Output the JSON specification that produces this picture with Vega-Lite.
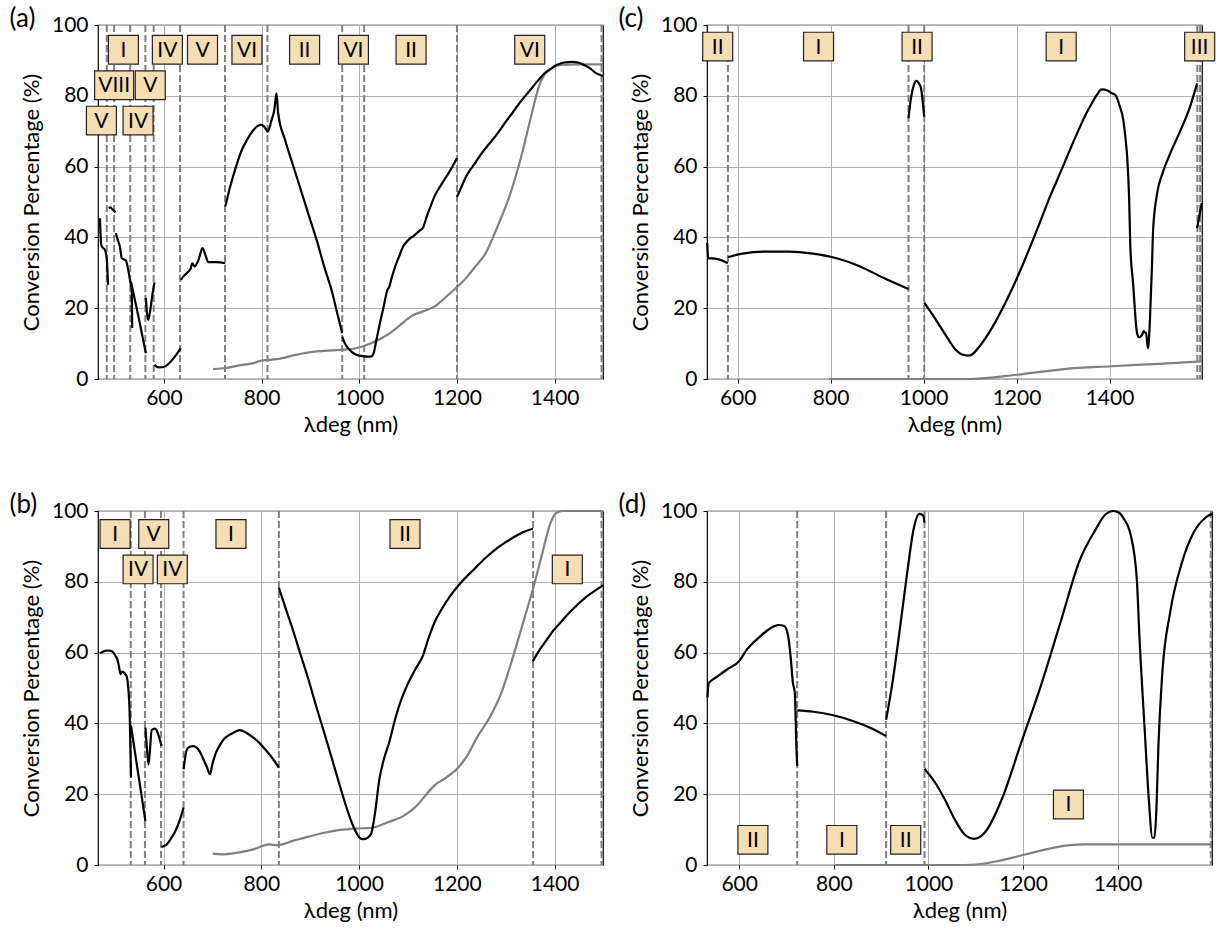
{
"$schema": "https://vega.github.io/schema/vega-lite/v6.json",
"background": "white",
"padding": {"left": 8, "top": 5, "right": 0, "bottom": 0},
"datasets": {
"curves": [
{"p":"a","s":1,"k":"m","x":469,"y":45.4},{"p":"a","s":1,"k":"m","x":471.5,"y":38},{"p":"a","s":1,"k":"m","x":474,"y":37.2},{"p":"a","s":1,"k":"m","x":479,"y":36.5},{"p":"a","s":1,"k":"m","x":483,"y":34},{"p":"a","s":1,"k":"m","x":484.5,"y":30},{"p":"a","s":1,"k":"m","x":485.5,"y":26.6},
{"p":"a","s":2,"k":"m","x":487,"y":48.3},{"p":"a","s":2,"k":"m","x":490,"y":48.5},{"p":"a","s":2,"k":"m","x":494,"y":48},{"p":"a","s":2,"k":"m","x":501,"y":47.1},
{"p":"a","s":3,"k":"m","x":501.7,"y":41.2},{"p":"a","s":3,"k":"m","x":505,"y":39.5},{"p":"a","s":3,"k":"m","x":509.8,"y":37.4},{"p":"a","s":3,"k":"m","x":513.8,"y":34.1},{"p":"a","s":3,"k":"m","x":518,"y":33.8},{"p":"a","s":3,"k":"m","x":522,"y":33.5},{"p":"a","s":3,"k":"m","x":527.5,"y":30.4},{"p":"a","s":3,"k":"m","x":531,"y":27.5},{"p":"a","s":3,"k":"m","x":534,"y":25.2},{"p":"a","s":3,"k":"m","x":535,"y":14.4},
{"p":"a","s":4,"k":"m","x":532.5,"y":27.5},{"p":"a","s":4,"k":"m","x":548,"y":17.5},{"p":"a","s":4,"k":"m","x":563,"y":7.3},
{"p":"a","s":5,"k":"m","x":563,"y":22.9},{"p":"a","s":5,"k":"m","x":565,"y":19},{"p":"a","s":5,"k":"m","x":567.8,"y":16.7},{"p":"a","s":5,"k":"m","x":572.6,"y":20},{"p":"a","s":5,"k":"m","x":576,"y":23.5},{"p":"a","s":5,"k":"m","x":580.7,"y":27.3},
{"p":"a","s":6,"k":"m","x":580.7,"y":4},{"p":"a","s":6,"k":"m","x":585,"y":3.5},{"p":"a","s":6,"k":"m","x":590,"y":3.3},{"p":"a","s":6,"k":"m","x":600,"y":3.4},{"p":"a","s":6,"k":"m","x":607,"y":4},{"p":"a","s":6,"k":"m","x":614.5,"y":5},{"p":"a","s":6,"k":"m","x":625,"y":6.8},{"p":"a","s":6,"k":"m","x":634.6,"y":8.7},
{"p":"a","s":7,"k":"m","x":634.6,"y":28},{"p":"a","s":7,"k":"m","x":640,"y":29},{"p":"a","s":7,"k":"m","x":646.7,"y":29.9},{"p":"a","s":7,"k":"m","x":654.8,"y":31.2},{"p":"a","s":7,"k":"m","x":658,"y":32.7},{"p":"a","s":7,"k":"m","x":662.8,"y":31.8},{"p":"a","s":7,"k":"m","x":670.9,"y":33.7},{"p":"a","s":7,"k":"m","x":679,"y":37},{"p":"a","s":7,"k":"m","x":685,"y":35},{"p":"a","s":7,"k":"m","x":691,"y":33},{"p":"a","s":7,"k":"m","x":707,"y":33},{"p":"a","s":7,"k":"m","x":725.7,"y":32.7},
{"p":"a","s":8,"k":"m","x":725.7,"y":48.7},{"p":"a","s":8,"k":"m","x":735,"y":54},{"p":"a","s":8,"k":"m","x":743.4,"y":58.1},{"p":"a","s":8,"k":"m","x":759.5,"y":64.7},{"p":"a","s":8,"k":"m","x":770,"y":67.5},{"p":"a","s":8,"k":"m","x":783.7,"y":70.4},{"p":"a","s":8,"k":"m","x":792,"y":71.5},{"p":"a","s":8,"k":"m","x":799.8,"y":71.8},{"p":"a","s":8,"k":"m","x":806,"y":71.2},{"p":"a","s":8,"k":"m","x":812.7,"y":69.9},{"p":"a","s":8,"k":"m","x":820,"y":73},{"p":"a","s":8,"k":"m","x":826,"y":76},{"p":"a","s":8,"k":"m","x":830.4,"y":80.7},{"p":"a","s":8,"k":"m","x":834,"y":75},{"p":"a","s":8,"k":"m","x":848.1,"y":67.5},{"p":"a","s":8,"k":"m","x":864,"y":60.5},{"p":"a","s":8,"k":"m","x":880.3,"y":53.4},{"p":"a","s":8,"k":"m","x":896,"y":46.5},{"p":"a","s":8,"k":"m","x":912.6,"y":39.3},{"p":"a","s":8,"k":"m","x":928,"y":31.8},{"p":"a","s":8,"k":"m","x":944.8,"y":24.3},{"p":"a","s":8,"k":"m","x":955,"y":18.5},{"p":"a","s":8,"k":"m","x":965,"y":13},
{"p":"a","s":9,"k":"m","x":965,"y":12},{"p":"a","s":9,"k":"m","x":970,"y":10.2},{"p":"a","s":9,"k":"m","x":977,"y":8.7},{"p":"a","s":9,"k":"m","x":985,"y":7.6},{"p":"a","s":9,"k":"m","x":993,"y":6.9},{"p":"a","s":9,"k":"m","x":1000,"y":6.6},{"p":"a","s":9,"k":"m","x":1010,"y":6.4},{"p":"a","s":9,"k":"m","x":1020,"y":6.3},{"p":"a","s":9,"k":"m","x":1025.4,"y":6.4},{"p":"a","s":9,"k":"m","x":1029.4,"y":7.3},{"p":"a","s":9,"k":"m","x":1035,"y":11},{"p":"a","s":9,"k":"m","x":1041.5,"y":15.3},{"p":"a","s":9,"k":"m","x":1050,"y":20.5},{"p":"a","s":9,"k":"m","x":1057.6,"y":25.2},{"p":"a","s":9,"k":"m","x":1061.6,"y":26.1},{"p":"a","s":9,"k":"m","x":1066,"y":28.4},{"p":"a","s":9,"k":"m","x":1073.7,"y":31.8},{"p":"a","s":9,"k":"m","x":1082,"y":34.8},{"p":"a","s":9,"k":"m","x":1089.8,"y":37.4},{"p":"a","s":9,"k":"m","x":1100,"y":39.2},{"p":"a","s":9,"k":"m","x":1114,"y":40.7},{"p":"a","s":9,"k":"m","x":1124,"y":42},{"p":"a","s":9,"k":"m","x":1130,"y":42.6},{"p":"a","s":9,"k":"m","x":1138,"y":45.9},{"p":"a","s":9,"k":"m","x":1146,"y":48.8},{"p":"a","s":9,"k":"m","x":1154,"y":51.6},{"p":"a","s":9,"k":"m","x":1166,"y":54.5},{"p":"a","s":9,"k":"m","x":1178.4,"y":57.2},{"p":"a","s":9,"k":"m","x":1190,"y":59.8},{"p":"a","s":9,"k":"m","x":1200,"y":62.4},
{"p":"a","s":10,"k":"m","x":1200,"y":51.4},{"p":"a","s":10,"k":"m","x":1210,"y":54.5},{"p":"a","s":10,"k":"m","x":1218.7,"y":57.2},{"p":"a","s":10,"k":"m","x":1235,"y":60.6},{"p":"a","s":10,"k":"m","x":1250.9,"y":63.8},{"p":"a","s":10,"k":"m","x":1267,"y":66.6},{"p":"a","s":10,"k":"m","x":1283.1,"y":69.4},{"p":"a","s":10,"k":"m","x":1299,"y":72.5},{"p":"a","s":10,"k":"m","x":1315.3,"y":75.5},{"p":"a","s":10,"k":"m","x":1331,"y":78.5},{"p":"a","s":10,"k":"m","x":1347.6,"y":81.2},{"p":"a","s":10,"k":"m","x":1364,"y":84},{"p":"a","s":10,"k":"m","x":1379.8,"y":86.4},{"p":"a","s":10,"k":"m","x":1392,"y":87.6},{"p":"a","s":10,"k":"m","x":1404,"y":88.7},{"p":"a","s":10,"k":"m","x":1420,"y":89.4},{"p":"a","s":10,"k":"m","x":1436.2,"y":89.6},{"p":"a","s":10,"k":"m","x":1448,"y":89.4},{"p":"a","s":10,"k":"m","x":1460.4,"y":88.7},{"p":"a","s":10,"k":"m","x":1472,"y":87.8},{"p":"a","s":10,"k":"m","x":1484.6,"y":86.4},{"p":"a","s":10,"k":"m","x":1499,"y":85.6},
{"p":"a","s":0,"k":"r","x":700.7,"y":2.8},{"p":"a","s":0,"k":"r","x":727.3,"y":3.1},{"p":"a","s":0,"k":"r","x":751.5,"y":3.8},{"p":"a","s":0,"k":"r","x":783.7,"y":4.5},{"p":"a","s":0,"k":"r","x":799.8,"y":5.2},{"p":"a","s":0,"k":"r","x":832,"y":5.6},{"p":"a","s":0,"k":"r","x":872.3,"y":6.9},{"p":"a","s":0,"k":"r","x":912.6,"y":7.8},{"p":"a","s":0,"k":"r","x":944.8,"y":8.1},{"p":"a","s":0,"k":"r","x":969,"y":8.3},{"p":"a","s":0,"k":"r","x":993.1,"y":8.7},{"p":"a","s":0,"k":"r","x":1025.4,"y":10.2},{"p":"a","s":0,"k":"r","x":1057.6,"y":12.5},{"p":"a","s":0,"k":"r","x":1081.7,"y":15},{"p":"a","s":0,"k":"r","x":1105.9,"y":17.7},{"p":"a","s":0,"k":"r","x":1130.1,"y":19.1},{"p":"a","s":0,"k":"r","x":1154.3,"y":20.5},{"p":"a","s":0,"k":"r","x":1178.4,"y":23.3},{"p":"a","s":0,"k":"r","x":1200.2,"y":26},{"p":"a","s":0,"k":"r","x":1218.7,"y":28.5},{"p":"a","s":0,"k":"r","x":1234.8,"y":31.3},{"p":"a","s":0,"k":"r","x":1259,"y":35.6},{"p":"a","s":0,"k":"r","x":1283.1,"y":43.1},{"p":"a","s":0,"k":"r","x":1307.3,"y":51.6},{"p":"a","s":0,"k":"r","x":1331.5,"y":62.8},{"p":"a","s":0,"k":"r","x":1351.6,"y":74.1},{"p":"a","s":0,"k":"r","x":1367.7,"y":82.6},{"p":"a","s":0,"k":"r","x":1387.9,"y":87.3},{"p":"a","s":0,"k":"r","x":1412,"y":88.7},{"p":"a","s":0,"k":"r","x":1444.3,"y":88.9},{"p":"a","s":0,"k":"r","x":1499,"y":88.9},
{"p":"b","s":1,"k":"m","x":470,"y":59.8},{"p":"b","s":1,"k":"m","x":477,"y":60.3},{"p":"b","s":1,"k":"m","x":485.6,"y":60.6},{"p":"b","s":1,"k":"m","x":492,"y":60.5},{"p":"b","s":1,"k":"m","x":497.7,"y":60},{"p":"b","s":1,"k":"m","x":502,"y":59},{"p":"b","s":1,"k":"m","x":505.7,"y":58.1},{"p":"b","s":1,"k":"m","x":509,"y":56},{"p":"b","s":1,"k":"m","x":512.2,"y":53.9},{"p":"b","s":1,"k":"m","x":515,"y":54.6},{"p":"b","s":1,"k":"m","x":517.8,"y":54.5},{"p":"b","s":1,"k":"m","x":521,"y":54},{"p":"b","s":1,"k":"m","x":524.3,"y":53.4},{"p":"b","s":1,"k":"m","x":527.5,"y":50.6},{"p":"b","s":1,"k":"m","x":530.7,"y":43},{"p":"b","s":1,"k":"m","x":532,"y":35},{"p":"b","s":1,"k":"m","x":533.5,"y":24.7},
{"p":"b","s":2,"k":"m","x":533.5,"y":39.3},{"p":"b","s":2,"k":"m","x":548,"y":26},{"p":"b","s":2,"k":"m","x":563,"y":12.4},
{"p":"b","s":3,"k":"m","x":563,"y":38.8},{"p":"b","s":3,"k":"m","x":566,"y":33},{"p":"b","s":3,"k":"m","x":569.3,"y":28.4},{"p":"b","s":3,"k":"m","x":572,"y":32},{"p":"b","s":3,"k":"m","x":575.8,"y":38.1},{"p":"b","s":3,"k":"m","x":582.2,"y":38.5},{"p":"b","s":3,"k":"m","x":586,"y":38},{"p":"b","s":3,"k":"m","x":590.3,"y":36.4},{"p":"b","s":3,"k":"m","x":596,"y":33.6},
{"p":"b","s":4,"k":"m","x":596,"y":5.1},{"p":"b","s":4,"k":"m","x":600,"y":5.3},{"p":"b","s":4,"k":"m","x":606.4,"y":5.8},{"p":"b","s":4,"k":"m","x":614,"y":7.2},{"p":"b","s":4,"k":"m","x":622.6,"y":9.1},{"p":"b","s":4,"k":"m","x":632,"y":12.2},{"p":"b","s":4,"k":"m","x":641,"y":16.2},
{"p":"b","s":5,"k":"m","x":641,"y":27},{"p":"b","s":5,"k":"m","x":644,"y":30},{"p":"b","s":5,"k":"m","x":646.7,"y":32.2},{"p":"b","s":5,"k":"m","x":652,"y":33.3},{"p":"b","s":5,"k":"m","x":660.4,"y":33.6},{"p":"b","s":5,"k":"m","x":666,"y":33.3},{"p":"b","s":5,"k":"m","x":670.9,"y":32.7},{"p":"b","s":5,"k":"m","x":677,"y":31.3},{"p":"b","s":5,"k":"m","x":683,"y":29.4},{"p":"b","s":5,"k":"m","x":689,"y":27.6},{"p":"b","s":5,"k":"m","x":695,"y":25.6},{"p":"b","s":5,"k":"m","x":700,"y":28.5},{"p":"b","s":5,"k":"m","x":707.1,"y":31.7},{"p":"b","s":5,"k":"m","x":715,"y":33.8},{"p":"b","s":5,"k":"m","x":723.3,"y":35.5},{"p":"b","s":5,"k":"m","x":733,"y":36.6},{"p":"b","s":5,"k":"m","x":743.4,"y":37.4},{"p":"b","s":5,"k":"m","x":755.5,"y":38.1},{"p":"b","s":5,"k":"m","x":770,"y":37.3},{"p":"b","s":5,"k":"m","x":783.7,"y":36},{"p":"b","s":5,"k":"m","x":796,"y":34.5},{"p":"b","s":5,"k":"m","x":807.8,"y":32.7},{"p":"b","s":5,"k":"m","x":822,"y":30.3},{"p":"b","s":5,"k":"m","x":836,"y":27.5},
{"p":"b","s":6,"k":"m","x":836,"y":78.3},{"p":"b","s":6,"k":"m","x":850,"y":72.4},{"p":"b","s":6,"k":"m","x":864.2,"y":66.6},{"p":"b","s":6,"k":"m","x":880,"y":59.6},{"p":"b","s":6,"k":"m","x":896.5,"y":52.4},{"p":"b","s":6,"k":"m","x":912,"y":45},{"p":"b","s":6,"k":"m","x":928.7,"y":37.4},{"p":"b","s":6,"k":"m","x":945,"y":29.8},{"p":"b","s":6,"k":"m","x":960.9,"y":22.3},{"p":"b","s":6,"k":"m","x":973,"y":16.8},{"p":"b","s":6,"k":"m","x":985.1,"y":12},{"p":"b","s":6,"k":"m","x":993,"y":9.5},{"p":"b","s":6,"k":"m","x":1001.2,"y":7.7},{"p":"b","s":6,"k":"m","x":1007,"y":7.3},{"p":"b","s":6,"k":"m","x":1013.3,"y":7.4},{"p":"b","s":6,"k":"m","x":1020,"y":8},{"p":"b","s":6,"k":"m","x":1025.4,"y":9.1},{"p":"b","s":6,"k":"m","x":1033,"y":15},{"p":"b","s":6,"k":"m","x":1041.5,"y":24.2},{"p":"b","s":6,"k":"m","x":1050,"y":29.5},{"p":"b","s":6,"k":"m","x":1061.6,"y":34.6},{"p":"b","s":6,"k":"m","x":1073.7,"y":41.1},{"p":"b","s":6,"k":"m","x":1085,"y":46.2},{"p":"b","s":6,"k":"m","x":1097.9,"y":50.6},{"p":"b","s":6,"k":"m","x":1114,"y":55},{"p":"b","s":6,"k":"m","x":1130.1,"y":59},{"p":"b","s":6,"k":"m","x":1142,"y":64},{"p":"b","s":6,"k":"m","x":1154.3,"y":68.5},{"p":"b","s":6,"k":"m","x":1170,"y":72.5},{"p":"b","s":6,"k":"m","x":1186.5,"y":76},{"p":"b","s":6,"k":"m","x":1210,"y":80},{"p":"b","s":6,"k":"m","x":1234.8,"y":83.5},{"p":"b","s":6,"k":"m","x":1259,"y":86.8},{"p":"b","s":6,"k":"m","x":1283.1,"y":89.6},{"p":"b","s":6,"k":"m","x":1300,"y":91.2},{"p":"b","s":6,"k":"m","x":1315.4,"y":92.5},{"p":"b","s":6,"k":"m","x":1335,"y":94},{"p":"b","s":6,"k":"m","x":1355.6,"y":95},
{"p":"b","s":7,"k":"m","x":1355.6,"y":57.6},{"p":"b","s":7,"k":"m","x":1367,"y":60.3},{"p":"b","s":7,"k":"m","x":1379.8,"y":62.8},{"p":"b","s":7,"k":"m","x":1395,"y":65.8},{"p":"b","s":7,"k":"m","x":1412,"y":68.5},{"p":"b","s":7,"k":"m","x":1428,"y":71},{"p":"b","s":7,"k":"m","x":1444.3,"y":73.2},{"p":"b","s":7,"k":"m","x":1460,"y":75.2},{"p":"b","s":7,"k":"m","x":1476.5,"y":76.9},{"p":"b","s":7,"k":"m","x":1488,"y":78},{"p":"b","s":7,"k":"m","x":1499,"y":79},
{"p":"b","s":0,"k":"r","x":700.7,"y":3.2},{"p":"b","s":0,"k":"r","x":719.2,"y":3},{"p":"b","s":0,"k":"r","x":751.5,"y":3.5},{"p":"b","s":0,"k":"r","x":783.7,"y":4.4},{"p":"b","s":0,"k":"r","x":815.9,"y":5.8},{"p":"b","s":0,"k":"r","x":832,"y":5.6},{"p":"b","s":0,"k":"r","x":864.2,"y":6.8},{"p":"b","s":0,"k":"r","x":896.5,"y":8},{"p":"b","s":0,"k":"r","x":928.7,"y":9.1},{"p":"b","s":0,"k":"r","x":960.9,"y":9.9},{"p":"b","s":0,"k":"r","x":993.1,"y":10.3},{"p":"b","s":0,"k":"r","x":1025.4,"y":10.5},{"p":"b","s":0,"k":"r","x":1057.6,"y":12},{"p":"b","s":0,"k":"r","x":1089.8,"y":13.8},{"p":"b","s":0,"k":"r","x":1114,"y":16.2},{"p":"b","s":0,"k":"r","x":1138.1,"y":20},{"p":"b","s":0,"k":"r","x":1154.3,"y":22.5},{"p":"b","s":0,"k":"r","x":1178.4,"y":24.7},{"p":"b","s":0,"k":"r","x":1202.6,"y":27.5},{"p":"b","s":0,"k":"r","x":1218.7,"y":30.3},{"p":"b","s":0,"k":"r","x":1242.9,"y":36.4},{"p":"b","s":0,"k":"r","x":1267,"y":41.6},{"p":"b","s":0,"k":"r","x":1291.2,"y":48.7},{"p":"b","s":0,"k":"r","x":1315.4,"y":59},{"p":"b","s":0,"k":"r","x":1339.5,"y":70.3},{"p":"b","s":0,"k":"r","x":1355.6,"y":77.9},{"p":"b","s":0,"k":"r","x":1371.7,"y":86.3},{"p":"b","s":0,"k":"r","x":1391.9,"y":96.7},{"p":"b","s":0,"k":"r","x":1404,"y":99.5},{"p":"b","s":0,"k":"r","x":1416.1,"y":100},{"p":"b","s":0,"k":"r","x":1499,"y":100},
{"p":"c","s":1,"k":"m","x":534.5,"y":38.4},{"p":"c","s":1,"k":"m","x":536.6,"y":34.1},{"p":"c","s":1,"k":"m","x":551,"y":34},{"p":"c","s":1,"k":"m","x":567.9,"y":33.4},{"p":"c","s":1,"k":"m","x":578.9,"y":32.7},
{"p":"c","s":2,"k":"m","x":578.9,"y":34.4},{"p":"c","s":2,"k":"m","x":610.1,"y":35.4},{"p":"c","s":2,"k":"m","x":660.8,"y":36},{"p":"c","s":2,"k":"m","x":711.5,"y":36},{"p":"c","s":2,"k":"m","x":762.2,"y":35.4},{"p":"c","s":2,"k":"m","x":812.9,"y":34.1},{"p":"c","s":2,"k":"m","x":863.6,"y":31.8},{"p":"c","s":2,"k":"m","x":914.3,"y":28.5},{"p":"c","s":2,"k":"m","x":967.5,"y":25.4},
{"p":"c","s":3,"k":"m","x":967.5,"y":73.7},{"p":"c","s":3,"k":"m","x":973.4,"y":79.8},{"p":"c","s":3,"k":"m","x":979,"y":83},{"p":"c","s":3,"k":"m","x":984.4,"y":84.2},{"p":"c","s":3,"k":"m","x":990,"y":83.5},{"p":"c","s":3,"k":"m","x":994.5,"y":82.1},{"p":"c","s":3,"k":"m","x":998,"y":78.5},{"p":"c","s":3,"k":"m","x":1001.3,"y":74.1},
{"p":"c","s":4,"k":"m","x":1001.3,"y":21.6},{"p":"c","s":4,"k":"m","x":1024.1,"y":17.2},{"p":"c","s":4,"k":"m","x":1049.4,"y":12},{"p":"c","s":4,"k":"m","x":1066.3,"y":8.7},{"p":"c","s":4,"k":"m","x":1083.2,"y":6.9},{"p":"c","s":4,"k":"m","x":1095.9,"y":6.6},{"p":"c","s":4,"k":"m","x":1105,"y":7},{"p":"c","s":4,"k":"m","x":1117,"y":8.7},{"p":"c","s":4,"k":"m","x":1133,"y":11.5},{"p":"c","s":4,"k":"m","x":1150.8,"y":15.3},{"p":"c","s":4,"k":"m","x":1172,"y":20.5},{"p":"c","s":4,"k":"m","x":1193,"y":26.2},{"p":"c","s":4,"k":"m","x":1214,"y":32.5},{"p":"c","s":4,"k":"m","x":1235.3,"y":39.3},{"p":"c","s":4,"k":"m","x":1252,"y":44.8},{"p":"c","s":4,"k":"m","x":1269.1,"y":50.6},{"p":"c","s":4,"k":"m","x":1286,"y":55.8},{"p":"c","s":4,"k":"m","x":1302.9,"y":61},{"p":"c","s":4,"k":"m","x":1320,"y":66.3},{"p":"c","s":4,"k":"m","x":1336.7,"y":71.3},{"p":"c","s":4,"k":"m","x":1350,"y":75},{"p":"c","s":4,"k":"m","x":1362,"y":77.9},{"p":"c","s":4,"k":"m","x":1373,"y":80.3},{"p":"c","s":4,"k":"m","x":1383,"y":81.8},{"p":"c","s":4,"k":"m","x":1395.8,"y":81.5},{"p":"c","s":4,"k":"m","x":1404,"y":80.8},{"p":"c","s":4,"k":"m","x":1412.7,"y":80.2},{"p":"c","s":4,"k":"m","x":1421,"y":77.5},{"p":"c","s":4,"k":"m","x":1429.6,"y":73.2},{"p":"c","s":4,"k":"m","x":1434,"y":68.5},{"p":"c","s":4,"k":"m","x":1438,"y":62.8},{"p":"c","s":4,"k":"m","x":1442.3,"y":50.6},{"p":"c","s":4,"k":"m","x":1444.8,"y":37.4},{"p":"c","s":4,"k":"m","x":1450.7,"y":27.1},{"p":"c","s":4,"k":"m","x":1459.2,"y":13},{"p":"c","s":4,"k":"m","x":1463.4,"y":11.8},{"p":"c","s":4,"k":"m","x":1467,"y":12},{"p":"c","s":4,"k":"m","x":1470.1,"y":12.5},{"p":"c","s":4,"k":"m","x":1473.5,"y":13.5},{"p":"c","s":4,"k":"m","x":1476,"y":13.2},{"p":"c","s":4,"k":"m","x":1478.6,"y":13},{"p":"c","s":4,"k":"m","x":1482.8,"y":8.7},{"p":"c","s":4,"k":"m","x":1487,"y":16.7},{"p":"c","s":4,"k":"m","x":1491.3,"y":31.8},{"p":"c","s":4,"k":"m","x":1493.8,"y":42.1},{"p":"c","s":4,"k":"m","x":1501.4,"y":51.6},{"p":"c","s":4,"k":"m","x":1514,"y":58.1},{"p":"c","s":4,"k":"m","x":1530.9,"y":63.8},{"p":"c","s":4,"k":"m","x":1556.3,"y":71.3},{"p":"c","s":4,"k":"m","x":1573.2,"y":76.9},{"p":"c","s":4,"k":"m","x":1588.4,"y":83.5},
{"p":"c","s":5,"k":"m","x":1588.4,"y":42.6},{"p":"c","s":5,"k":"m","x":1598.5,"y":49.7},
{"p":"c","s":0,"k":"r","x":796,"y":0},{"p":"c","s":0,"k":"r","x":1100,"y":0},{"p":"c","s":0,"k":"r","x":1201.5,"y":1.2},{"p":"c","s":0,"k":"r","x":1302.9,"y":2.8},{"p":"c","s":0,"k":"r","x":1404.2,"y":3.6},{"p":"c","s":0,"k":"r","x":1505.6,"y":4.3},{"p":"c","s":0,"k":"r","x":1598.5,"y":5},
{"p":"d","s":1,"k":"m","x":533,"y":47.3},{"p":"d","s":1,"k":"m","x":535.4,"y":51.3},{"p":"d","s":1,"k":"m","x":550.3,"y":52.9},{"p":"d","s":1,"k":"m","x":575.2,"y":55.3},{"p":"d","s":1,"k":"m","x":600,"y":57.6},{"p":"d","s":1,"k":"m","x":616.6,"y":60.9},{"p":"d","s":1,"k":"m","x":641.4,"y":64.2},{"p":"d","s":1,"k":"m","x":666.3,"y":66.9},{"p":"d","s":1,"k":"m","x":682.8,"y":67.8},{"p":"d","s":1,"k":"m","x":695.2,"y":67.5},{"p":"d","s":1,"k":"m","x":703.5,"y":64.7},{"p":"d","s":1,"k":"m","x":709.3,"y":58.1},{"p":"d","s":1,"k":"m","x":713.5,"y":51.5},{"p":"d","s":1,"k":"m","x":717.6,"y":48.7},{"p":"d","s":1,"k":"m","x":720.9,"y":33.6},{"p":"d","s":1,"k":"m","x":722.6,"y":28},
{"p":"d","s":2,"k":"m","x":722.6,"y":43.7},{"p":"d","s":2,"k":"m","x":757.4,"y":43.3},{"p":"d","s":2,"k":"m","x":798.8,"y":42.3},{"p":"d","s":2,"k":"m","x":840.2,"y":40.7},{"p":"d","s":2,"k":"m","x":881.6,"y":38.5},{"p":"d","s":2,"k":"m","x":910.6,"y":36.4},
{"p":"d","s":3,"k":"m","x":910.6,"y":41},{"p":"d","s":3,"k":"m","x":923,"y":50.6},{"p":"d","s":3,"k":"m","x":939.6,"y":66.6},{"p":"d","s":3,"k":"m","x":956.1,"y":83.5},{"p":"d","s":3,"k":"m","x":968.6,"y":94.8},{"p":"d","s":3,"k":"m","x":981,"y":99.2},{"p":"d","s":3,"k":"m","x":986,"y":99},{"p":"d","s":3,"k":"m","x":989.3,"y":98.6},{"p":"d","s":3,"k":"m","x":991.7,"y":96.7},
{"p":"d","s":4,"k":"m","x":991.7,"y":27.2},{"p":"d","s":4,"k":"m","x":1014.1,"y":23.3},{"p":"d","s":4,"k":"m","x":1034.8,"y":18.5},{"p":"d","s":4,"k":"m","x":1055.5,"y":12.9},{"p":"d","s":4,"k":"m","x":1076.2,"y":8.7},{"p":"d","s":4,"k":"m","x":1096.9,"y":7.4},{"p":"d","s":4,"k":"m","x":1110,"y":8},{"p":"d","s":4,"k":"m","x":1121.8,"y":9.6},{"p":"d","s":4,"k":"m","x":1154.9,"y":18.5},{"p":"d","s":4,"k":"m","x":1196.3,"y":34.6},{"p":"d","s":4,"k":"m","x":1237.7,"y":50.6},{"p":"d","s":4,"k":"m","x":1279.1,"y":68.5},{"p":"d","s":4,"k":"m","x":1320.5,"y":86.3},{"p":"d","s":4,"k":"m","x":1353.7,"y":94.8},{"p":"d","s":4,"k":"m","x":1374,"y":99},{"p":"d","s":4,"k":"m","x":1391,"y":100},{"p":"d","s":4,"k":"m","x":1403.4,"y":99.5},{"p":"d","s":4,"k":"m","x":1411.6,"y":98.1},{"p":"d","s":4,"k":"m","x":1428.2,"y":92.9},{"p":"d","s":4,"k":"m","x":1440.6,"y":80.7},{"p":"d","s":4,"k":"m","x":1446.4,"y":63.7},{"p":"d","s":4,"k":"m","x":1448.9,"y":57.2},{"p":"d","s":4,"k":"m","x":1457.2,"y":38.3},{"p":"d","s":4,"k":"m","x":1465.4,"y":19.6},{"p":"d","s":4,"k":"m","x":1473.7,"y":7.7},{"p":"d","s":4,"k":"m","x":1477.9,"y":7.7},{"p":"d","s":4,"k":"m","x":1482,"y":15.7},{"p":"d","s":4,"k":"m","x":1486.2,"y":33.6},{"p":"d","s":4,"k":"m","x":1494.5,"y":54.3},{"p":"d","s":4,"k":"m","x":1511,"y":71.3},{"p":"d","s":4,"k":"m","x":1535.9,"y":85.4},{"p":"d","s":4,"k":"m","x":1560.7,"y":93.9},{"p":"d","s":4,"k":"m","x":1585.6,"y":98.1},{"p":"d","s":4,"k":"m","x":1599.5,"y":99.2},
{"p":"d","s":0,"k":"r","x":802.9,"y":0},{"p":"d","s":0,"k":"r","x":1076.2,"y":0},{"p":"d","s":0,"k":"r","x":1328.8,"y":5.8},{"p":"d","s":0,"k":"r","x":1599.5,"y":5.8}
],
"vlines": [
{"p":"a","x":483},{"p":"a","x":498},{"p":"a","x":531},{"p":"a","x":562},{"p":"a","x":579},{"p":"a","x":633},{"p":"a","x":725},{"p":"a","x":812},{"p":"a","x":965},{"p":"a","x":1010},{"p":"a","x":1200},{"p":"a","x":1496},
{"p":"b","x":533},{"p":"b","x":562},{"p":"b","x":595},{"p":"b","x":641},{"p":"b","x":836},{"p":"b","x":1356},{"p":"b","x":1496},
{"p":"c","x":579},{"p":"c","x":967.5},{"p":"c","x":1001.3},{"p":"c","x":1589},{"p":"c","x":1595},
{"p":"d","x":722.6},{"p":"d","x":910.6},{"p":"d","x":991.7},{"p":"d","x":1597}
],
"labels": [
{"p":"a","t":"I","x":517,"y":93},{"p":"a","t":"IV","x":607,"y":93},{"p":"a","t":"V","x":679,"y":93},{"p":"a","t":"VI","x":770,"y":93},{"p":"a","t":"II","x":888,"y":93},{"p":"a","t":"VI","x":988,"y":93},{"p":"a","t":"II","x":1106,"y":93},{"p":"a","t":"VI","x":1349,"y":93},{"p":"a","t":"VIII","x":498,"y":83},{"p":"a","t":"V","x":572,"y":83},{"p":"a","t":"V","x":472,"y":73},{"p":"a","t":"IV","x":547,"y":73},
{"p":"b","t":"I","x":501,"y":93.5},{"p":"b","t":"V","x":580,"y":93.5},{"p":"b","t":"I","x":738,"y":93.5},{"p":"b","t":"II","x":1094,"y":93.5},{"p":"b","t":"IV","x":548,"y":83.5},{"p":"b","t":"IV","x":618,"y":83.5},{"p":"b","t":"I","x":1426,"y":83.5},
{"p":"c","t":"II","x":557,"y":93.9},{"p":"c","t":"I","x":774,"y":93.9},{"p":"c","t":"II","x":986,"y":93.9},{"p":"c","t":"I","x":1296,"y":93.9},{"p":"c","t":"III","x":1594,"y":93.9},
{"p":"d","t":"II","x":629,"y":7.1},{"p":"d","t":"I","x":817,"y":7.1},{"p":"d","t":"II","x":952,"y":7.1},{"p":"d","t":"I","x":1296,"y":17.1}
]
},
"columns": 2,
"spacing": {"row": 55, "column": 9},
"concat": [
{"title": {"text": "(a)", "dx": -11, "offset": -39, "baseline": "alphabetic"},
 "width": 505, "height": 354,
 "layer": [
  {"data": {"name": "vlines"}, "transform": [{"filter": "datum.p==='a'"}], "mark": {"type": "rule", "color": "#808080", "strokeWidth": 2, "strokeDash": [7, 3]},
   "encoding": {"x": {"field": "x", "type": "quantitative", "scale": {"domain": [465, 1499], "nice": false, "zero": false}, "axis": {"title": "λdeg (nm)", "values": [600, 800, 1000, 1200, 1400], "format": "d"}}}},
  {"data": {"name": "curves"}, "transform": [{"filter": "datum.p==='a' && datum.k==='r'"}], "mark": {"type": "line", "color": "#808080", "strokeWidth": 2.2, "interpolate": "monotone"},
   "encoding": {"x": {"field": "x", "type": "quantitative", "scale": {"domain": [465, 1499], "nice": false, "zero": false}, "axis": {"title": "λdeg (nm)", "values": [600, 800, 1000, 1200, 1400], "format": "d"}},
    "y": {"field": "y", "type": "quantitative", "scale": {"domain": [0, 100], "nice": false}, "axis": {"title": "Conversion Percentage (%)", "values": [0, 20, 40, 60, 80, 100], "format": "d"}}}},
  {"data": {"name": "curves"}, "transform": [{"filter": "datum.p==='a' && datum.k==='m'"}], "mark": {"type": "line", "color": "#000000", "strokeWidth": 2.2, "interpolate": "monotone"},
   "encoding": {"x": {"field": "x", "type": "quantitative", "scale": {"domain": [465, 1499], "nice": false, "zero": false}, "axis": {"title": "λdeg (nm)", "values": [600, 800, 1000, 1200, 1400], "format": "d"}},
    "y": {"field": "y", "type": "quantitative", "scale": {"domain": [0, 100], "nice": false}, "axis": {"title": "Conversion Percentage (%)", "values": [0, 20, 40, 60, 80, 100], "format": "d"}},
    "detail": {"field": "s", "type": "nominal"}}},
  {"data": {"name": "labels"}, "transform": [{"filter": "datum.p==='a'"}], "mark": {"type": "point", "filled": true, "fill": "#f5deb3", "stroke": "#222222", "strokeWidth": 1.2, "size": 824, "opacity": 1},
   "encoding": {"x": {"field": "x", "type": "quantitative", "scale": {"domain": [465, 1499], "nice": false, "zero": false}},
    "y": {"field": "y", "type": "quantitative", "scale": {"domain": [0, 100], "nice": false}},
    "shape": {"field": "t", "type": "nominal", "legend": null, "scale": {"domain": ["I", "II", "III", "IV", "V", "VI", "VIII"], "range": ["M-1.045,-1L1.045,-1L1.045,1L-1.045,1Z", "M-1.045,-1L1.045,-1L1.045,1L-1.045,1Z", "M-1.045,-1L1.045,-1L1.045,1L-1.045,1Z", "M-1.045,-1L1.045,-1L1.045,1L-1.045,1Z", "M-1.045,-1L1.045,-1L1.045,1L-1.045,1Z", "M-1.045,-1L1.045,-1L1.045,1L-1.045,1Z", "M-1.36,-1L1.36,-1L1.36,1L-1.36,1Z"]}}}},
  {"data": {"name": "labels"}, "transform": [{"filter": "datum.p==='a'"}], "mark": {"type": "text", "font": "Lato", "fontSize": 21, "color": "#000", "align": "center", "baseline": "middle", "dy": 1},
   "encoding": {"x": {"field": "x", "type": "quantitative", "scale": {"domain": [465, 1499], "nice": false, "zero": false}},
    "y": {"field": "y", "type": "quantitative", "scale": {"domain": [0, 100], "nice": false}}, "text": {"field": "t"}}}
 ]},
{"title": {"text": "(c)", "dx": -11, "offset": -39, "baseline": "alphabetic"},
 "width": 495, "height": 354,
 "layer": [
  {"data": {"name": "vlines"}, "transform": [{"filter": "datum.p==='c'"}], "mark": {"type": "rule", "color": "#808080", "strokeWidth": 2, "strokeDash": [7, 3]},
   "encoding": {"x": {"field": "x", "type": "quantitative", "scale": {"domain": [534, 1599], "nice": false, "zero": false}, "axis": {"title": "λdeg (nm)", "values": [600, 800, 1000, 1200, 1400], "format": "d"}}}},
  {"data": {"name": "curves"}, "transform": [{"filter": "datum.p==='c' && datum.k==='r'"}], "mark": {"type": "line", "color": "#808080", "strokeWidth": 2.2, "interpolate": "monotone"},
   "encoding": {"x": {"field": "x", "type": "quantitative", "scale": {"domain": [534, 1599], "nice": false, "zero": false}, "axis": {"title": "λdeg (nm)", "values": [600, 800, 1000, 1200, 1400], "format": "d"}},
    "y": {"field": "y", "type": "quantitative", "scale": {"domain": [0, 100], "nice": false}, "axis": {"title": "Conversion Percentage (%)", "values": [0, 20, 40, 60, 80, 100], "format": "d"}}}},
  {"data": {"name": "curves"}, "transform": [{"filter": "datum.p==='c' && datum.k==='m'"}], "mark": {"type": "line", "color": "#000000", "strokeWidth": 2.2, "interpolate": "monotone"},
   "encoding": {"x": {"field": "x", "type": "quantitative", "scale": {"domain": [534, 1599], "nice": false, "zero": false}, "axis": {"title": "λdeg (nm)", "values": [600, 800, 1000, 1200, 1400], "format": "d"}},
    "y": {"field": "y", "type": "quantitative", "scale": {"domain": [0, 100], "nice": false}, "axis": {"title": "Conversion Percentage (%)", "values": [0, 20, 40, 60, 80, 100], "format": "d"}},
    "detail": {"field": "s", "type": "nominal"}}},
  {"data": {"name": "labels"}, "transform": [{"filter": "datum.p==='c'"}], "mark": {"type": "point", "filled": true, "fill": "#f5deb3", "stroke": "#222222", "strokeWidth": 1.2, "size": 824, "opacity": 1},
   "encoding": {"x": {"field": "x", "type": "quantitative", "scale": {"domain": [534, 1599], "nice": false, "zero": false}},
    "y": {"field": "y", "type": "quantitative", "scale": {"domain": [0, 100], "nice": false}},
    "shape": {"field": "t", "type": "nominal", "legend": null, "scale": {"domain": ["I", "II", "III", "IV", "V", "VI", "VIII"], "range": ["M-1.045,-1L1.045,-1L1.045,1L-1.045,1Z", "M-1.045,-1L1.045,-1L1.045,1L-1.045,1Z", "M-1.045,-1L1.045,-1L1.045,1L-1.045,1Z", "M-1.045,-1L1.045,-1L1.045,1L-1.045,1Z", "M-1.045,-1L1.045,-1L1.045,1L-1.045,1Z", "M-1.045,-1L1.045,-1L1.045,1L-1.045,1Z", "M-1.36,-1L1.36,-1L1.36,1L-1.36,1Z"]}}}},
  {"data": {"name": "labels"}, "transform": [{"filter": "datum.p==='c'"}], "mark": {"type": "text", "font": "Lato", "fontSize": 21, "color": "#000", "align": "center", "baseline": "middle", "dy": 1},
   "encoding": {"x": {"field": "x", "type": "quantitative", "scale": {"domain": [534, 1599], "nice": false, "zero": false}},
    "y": {"field": "y", "type": "quantitative", "scale": {"domain": [0, 100], "nice": false}}, "text": {"field": "t"}}}
 ]},
{"title": {"text": "(b)", "dx": -11, "offset": -39, "baseline": "alphabetic"},
 "width": 505, "height": 354,
 "layer": [
  {"data": {"name": "vlines"}, "transform": [{"filter": "datum.p==='b'"}], "mark": {"type": "rule", "color": "#808080", "strokeWidth": 2, "strokeDash": [7, 3]},
   "encoding": {"x": {"field": "x", "type": "quantitative", "scale": {"domain": [466, 1499], "nice": false, "zero": false}, "axis": {"title": "λdeg (nm)", "values": [600, 800, 1000, 1200, 1400], "format": "d"}}}},
  {"data": {"name": "curves"}, "transform": [{"filter": "datum.p==='b' && datum.k==='r'"}], "mark": {"type": "line", "color": "#808080", "strokeWidth": 2.2, "interpolate": "monotone"},
   "encoding": {"x": {"field": "x", "type": "quantitative", "scale": {"domain": [466, 1499], "nice": false, "zero": false}, "axis": {"title": "λdeg (nm)", "values": [600, 800, 1000, 1200, 1400], "format": "d"}},
    "y": {"field": "y", "type": "quantitative", "scale": {"domain": [0, 100], "nice": false}, "axis": {"title": "Conversion Percentage (%)", "values": [0, 20, 40, 60, 80, 100], "format": "d"}}}},
  {"data": {"name": "curves"}, "transform": [{"filter": "datum.p==='b' && datum.k==='m'"}], "mark": {"type": "line", "color": "#000000", "strokeWidth": 2.2, "interpolate": "monotone"},
   "encoding": {"x": {"field": "x", "type": "quantitative", "scale": {"domain": [466, 1499], "nice": false, "zero": false}, "axis": {"title": "λdeg (nm)", "values": [600, 800, 1000, 1200, 1400], "format": "d"}},
    "y": {"field": "y", "type": "quantitative", "scale": {"domain": [0, 100], "nice": false}, "axis": {"title": "Conversion Percentage (%)", "values": [0, 20, 40, 60, 80, 100], "format": "d"}},
    "detail": {"field": "s", "type": "nominal"}}},
  {"data": {"name": "labels"}, "transform": [{"filter": "datum.p==='b'"}], "mark": {"type": "point", "filled": true, "fill": "#f5deb3", "stroke": "#222222", "strokeWidth": 1.2, "size": 824, "opacity": 1},
   "encoding": {"x": {"field": "x", "type": "quantitative", "scale": {"domain": [466, 1499], "nice": false, "zero": false}},
    "y": {"field": "y", "type": "quantitative", "scale": {"domain": [0, 100], "nice": false}},
    "shape": {"field": "t", "type": "nominal", "legend": null, "scale": {"domain": ["I", "II", "III", "IV", "V", "VI", "VIII"], "range": ["M-1.045,-1L1.045,-1L1.045,1L-1.045,1Z", "M-1.045,-1L1.045,-1L1.045,1L-1.045,1Z", "M-1.045,-1L1.045,-1L1.045,1L-1.045,1Z", "M-1.045,-1L1.045,-1L1.045,1L-1.045,1Z", "M-1.045,-1L1.045,-1L1.045,1L-1.045,1Z", "M-1.045,-1L1.045,-1L1.045,1L-1.045,1Z", "M-1.36,-1L1.36,-1L1.36,1L-1.36,1Z"]}}}},
  {"data": {"name": "labels"}, "transform": [{"filter": "datum.p==='b'"}], "mark": {"type": "text", "font": "Lato", "fontSize": 21, "color": "#000", "align": "center", "baseline": "middle", "dy": 1},
   "encoding": {"x": {"field": "x", "type": "quantitative", "scale": {"domain": [466, 1499], "nice": false, "zero": false}},
    "y": {"field": "y", "type": "quantitative", "scale": {"domain": [0, 100], "nice": false}}, "text": {"field": "t"}}}
 ]},
{"title": {"text": "(d)", "dx": -11, "offset": -39, "baseline": "alphabetic"},
 "width": 505, "height": 354,
 "layer": [
  {"data": {"name": "vlines"}, "transform": [{"filter": "datum.p==='d'"}], "mark": {"type": "rule", "color": "#808080", "strokeWidth": 2, "strokeDash": [7, 3]},
   "encoding": {"x": {"field": "x", "type": "quantitative", "scale": {"domain": [532, 1599.5], "nice": false, "zero": false}, "axis": {"title": "λdeg (nm)", "values": [600, 800, 1000, 1200, 1400], "format": "d"}}}},
  {"data": {"name": "curves"}, "transform": [{"filter": "datum.p==='d' && datum.k==='r'"}], "mark": {"type": "line", "color": "#808080", "strokeWidth": 2.2, "interpolate": "monotone"},
   "encoding": {"x": {"field": "x", "type": "quantitative", "scale": {"domain": [532, 1599.5], "nice": false, "zero": false}, "axis": {"title": "λdeg (nm)", "values": [600, 800, 1000, 1200, 1400], "format": "d"}},
    "y": {"field": "y", "type": "quantitative", "scale": {"domain": [0, 100], "nice": false}, "axis": {"title": "Conversion Percentage (%)", "values": [0, 20, 40, 60, 80, 100], "format": "d"}}}},
  {"data": {"name": "curves"}, "transform": [{"filter": "datum.p==='d' && datum.k==='m'"}], "mark": {"type": "line", "color": "#000000", "strokeWidth": 2.2, "interpolate": "monotone"},
   "encoding": {"x": {"field": "x", "type": "quantitative", "scale": {"domain": [532, 1599.5], "nice": false, "zero": false}, "axis": {"title": "λdeg (nm)", "values": [600, 800, 1000, 1200, 1400], "format": "d"}},
    "y": {"field": "y", "type": "quantitative", "scale": {"domain": [0, 100], "nice": false}, "axis": {"title": "Conversion Percentage (%)", "values": [0, 20, 40, 60, 80, 100], "format": "d"}},
    "detail": {"field": "s", "type": "nominal"}}},
  {"data": {"name": "labels"}, "transform": [{"filter": "datum.p==='d'"}], "mark": {"type": "point", "filled": true, "fill": "#f5deb3", "stroke": "#222222", "strokeWidth": 1.2, "size": 824, "opacity": 1},
   "encoding": {"x": {"field": "x", "type": "quantitative", "scale": {"domain": [532, 1599.5], "nice": false, "zero": false}},
    "y": {"field": "y", "type": "quantitative", "scale": {"domain": [0, 100], "nice": false}},
    "shape": {"field": "t", "type": "nominal", "legend": null, "scale": {"domain": ["I", "II", "III", "IV", "V", "VI", "VIII"], "range": ["M-1.045,-1L1.045,-1L1.045,1L-1.045,1Z", "M-1.045,-1L1.045,-1L1.045,1L-1.045,1Z", "M-1.045,-1L1.045,-1L1.045,1L-1.045,1Z", "M-1.045,-1L1.045,-1L1.045,1L-1.045,1Z", "M-1.045,-1L1.045,-1L1.045,1L-1.045,1Z", "M-1.045,-1L1.045,-1L1.045,1L-1.045,1Z", "M-1.36,-1L1.36,-1L1.36,1L-1.36,1Z"]}}}},
  {"data": {"name": "labels"}, "transform": [{"filter": "datum.p==='d'"}], "mark": {"type": "text", "font": "Lato", "fontSize": 21, "color": "#000", "align": "center", "baseline": "middle", "dy": 1},
   "encoding": {"x": {"field": "x", "type": "quantitative", "scale": {"domain": [532, 1599.5], "nice": false, "zero": false}},
    "y": {"field": "y", "type": "quantitative", "scale": {"domain": [0, 100], "nice": false}}, "text": {"field": "t"}}}
 ]}
],
"config": {
 "view": {"stroke": "#000000", "strokeWidth": 1.2},
 "axis": {"grid": true, "gridColor": "#b0b0b0", "gridWidth": 1, "domain": false, "ticks": true, "tickColor": "#000000", "tickSize": 4, "tickWidth": 1, "labelFont": "Lato", "labelFontSize": 21, "labelColor": "#000000", "titleFont": "Lato", "titleFontSize": 22, "titleFontWeight": "normal", "titleColor": "#000000"},
 "axisX": {"labelPadding": 4, "titlePadding": 6},
 "axisY": {"labelPadding": 6, "titlePadding": 8},
 "title": {"font": "Lato", "fontSize": 26, "fontWeight": "normal", "color": "#000000", "anchor": "start", "frame": "bounds"}
}
}
